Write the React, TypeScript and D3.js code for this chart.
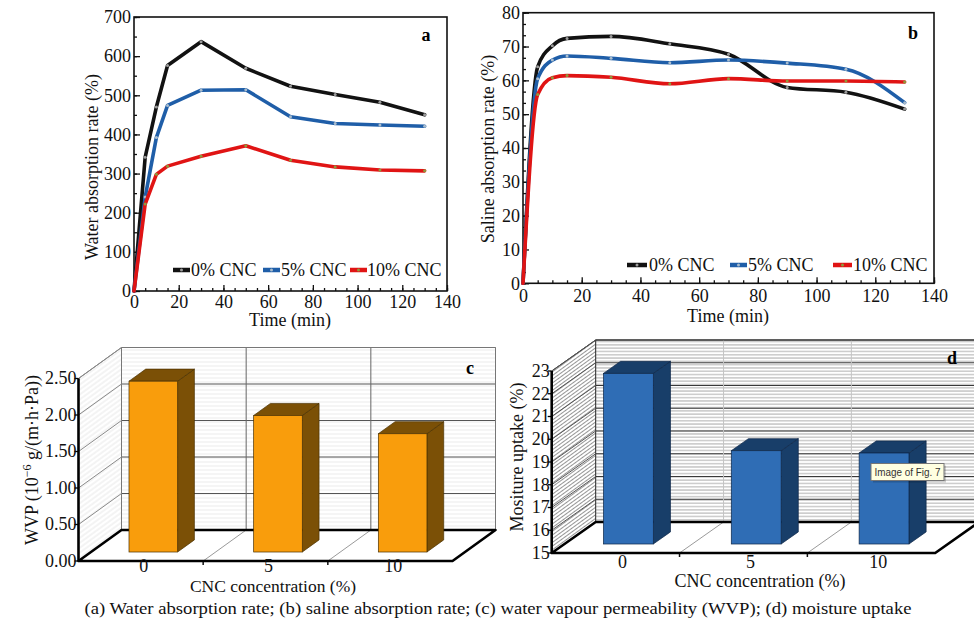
import React, { useEffect, useRef } from 'react'
import * as d3 from 'd3'

// sampling times (min) shared by panels a and b
const timePoints = [0, 5, 10, 15, 30, 50, 70, 90, 110, 130]
const seriesNames = ['0% CNC', '5% CNC', '10% CNC']

// a: water absorption rate (%)
const waterRate0 = [0, 342, 470, 576, 637, 569, 523, 502, 482, 450]
const waterRate5 = [0, 240, 392, 474, 513, 514, 445, 428, 424, 421]
const waterRate10 = [0, 222, 298, 319, 344, 371, 334, 317, 309, 307]

// b: saline absorption rate (%)
const salineRate0 = [0, 64, 70.2, 72.4, 73, 70.8, 67.7, 57.9, 56.5, 51.5]
const salineRate5 = [0, 60.5, 66, 67.2, 66.5, 65.2, 66, 65.1, 63.3, 53.4]
const salineRate10 = [0, 55.8, 60.8, 61.4, 60.9, 59, 60.5, 59.8, 59.8, 59.5]

const timeTicks = [0, 20, 40, 60, 80, 100, 120, 140]
const waterTicks = [0, 100, 200, 300, 400, 500, 600, 700]
const salineTicks = [0, 10, 20, 30, 40, 50, 60, 70, 80]

// c, d: bar charts by CNC concentration
const cncLevels = ['0', '5', '10']
const wvpValues = [2.34, 1.87, 1.62]
const wvpTicks = [0, 0.5, 1, 1.5, 2, 2.5]
const moistureValues = [22.5, 19.1, 19.0]
const moistureTicks = [15, 16, 17, 18, 19, 20, 21, 22, 23]

const SERIF = '"Liberation Serif", "Times New Roman", serif'
const lineColors = ['#121212', '#1f5ea8', '#e01414']
const markerColors = ['#9c9c9c', '#a9bccd', '#8e9a3c']

const styleAxis = (ax: any) => {
  ax.select('.domain').remove()
  ax.selectAll('line').attr('stroke', '#111').attr('stroke-width', 1.3)
  ax.selectAll('text').attr('font-family', SERIF).attr('font-size', 18).attr('fill', '#111')
}

const drawLinePanel = (svg: any, cfg: any) => {
  const x = d3.scaleLinear().domain([0, 140]).range([cfg.left, cfg.right])
  const y = d3.scaleLinear().domain([0, cfg.yMax]).range([cfg.bottom, cfg.top])
  const g = svg.append('g')

  // minor + major ticks, all pointing inward
  g.append('g').attr('transform', `translate(0,${cfg.bottom})`)
    .call(d3.axisBottom(x).tickValues(d3.range(0, 141, 5)).tickFormat(() => '').tickSize(-3)).call(styleAxis)
  g.append('g').attr('transform', `translate(0,${cfg.bottom})`)
    .call(d3.axisBottom(x).tickValues(timeTicks).tickSize(-6).tickPadding(cfg.xPad)).call(styleAxis)
  g.append('g').attr('transform', `translate(${cfg.left},0)`)
    .call(d3.axisLeft(y).tickValues(cfg.yMinor).tickFormat(() => '').tickSize(-3)).call(styleAxis)
  g.append('g').attr('transform', `translate(${cfg.left},0)`)
    .call(d3.axisLeft(y).tickValues(cfg.yTicks).tickSize(-6).tickPadding(3)).call(styleAxis)

  g.append('rect')
    .attr('x', cfg.left).attr('y', cfg.top)
    .attr('width', cfg.right - cfg.left).attr('height', cfg.bottom - cfg.top)
    .attr('fill', 'none').attr('stroke', '#111').attr('stroke-width', 1.6)

  cfg.series.forEach((vals: number[], i: number) => {
    const line = d3.line<number>()
      .x((d, j) => x(timePoints[j]))
      .y(d => y(d))
      .curve(cfg.curve)
    g.append('path').datum(vals).attr('d', line)
      .attr('fill', 'none').attr('stroke', lineColors[i]).attr('stroke-width', 3.6)
      .attr('stroke-linejoin', 'round').attr('stroke-linecap', 'round')
    g.selectAll(null).data(vals.slice(1)).enter().append('circle')
      .attr('cx', (d: number, j: number) => x(timePoints[j + 1]))
      .attr('cy', (d: number) => y(d))
      .attr('r', 1.5).attr('fill', markerColors[i])
  })

  // legend
  seriesNames.forEach((name, i) => {
    const [s0, s1] = cfg.legendSwatch[i]
    g.append('line').attr('x1', s0).attr('x2', s1).attr('y1', cfg.legendY).attr('y2', cfg.legendY)
      .attr('stroke', lineColors[i]).attr('stroke-width', 4.5)
    g.append('circle').attr('cx', (s0 + s1) / 2).attr('cy', cfg.legendY).attr('r', 1.5).attr('fill', markerColors[i])
    g.append('text').attr('x', cfg.legendText[i]).attr('y', cfg.legendY).attr('dy', '0.33em')
      .attr('font-family', SERIF).attr('font-size', 18).attr('fill', '#111').text(name)
  })

  g.append('text').attr('x', cfg.letter[0]).attr('y', cfg.letter[1]).attr('text-anchor', 'middle')
    .attr('font-family', SERIF).attr('font-size', 18).attr('font-weight', 'bold').text(cfg.letterText)
  g.append('text').attr('x', cfg.xTitle[0]).attr('y', cfg.xTitle[1]).attr('text-anchor', 'middle')
    .attr('font-family', SERIF).attr('font-size', 18).attr('fill', '#111').text('Time (min)')
  g.append('text').attr('transform', `translate(${cfg.yTitle[0]},${cfg.yTitle[1]}) rotate(-90)`)
    .attr('dy', '0.35em').attr('text-anchor', 'middle')
    .attr('font-family', SERIF).attr('font-size', 18).attr('fill', '#111').text(cfg.yTitleText)
}

const drawBarPanel = (svg: any, cfg: any) => {
  const { x0, y0, width, ddx, ddy, height } = cfg
  const band = d3.scaleBand().domain(cncLevels).range([0, width]).paddingInner(0.61).paddingOuter(0.305)
  const slot = d3.scaleBand().domain(cncLevels).range([0, width])
  const v = d3.scaleLinear().domain(cfg.domain).range([0, height])
  const g = svg.append('g')
  const bx = x0 + ddx
  const by = y0 + ddy
  const pts = (p: number[][]) => p.map(q => q.join(',')).join(' ')

  // back wall
  g.append('rect').attr('x', bx).attr('y', by - height).attr('width', width).attr('height', height).attr('fill', '#fff')
  g.append('rect').attr('x', bx).attr('y', by - height).attr('width', width).attr('height', height)
    .attr('fill', `url(#${cfg.backPattern})`)
  cfg.ticks.forEach((t: number) => {
    g.append('line').attr('x1', bx).attr('x2', bx + width).attr('y1', by - v(t)).attr('y2', by - v(t))
      .attr('stroke', cfg.gridColor).attr('stroke-width', 1.1)
  })
  cncLevels.slice(1).forEach(c => {
    g.append('line').attr('x1', bx + slot(c)!).attr('x2', bx + slot(c)!).attr('y1', by).attr('y2', by - height)
      .attr('stroke', cfg.vGridColor).attr('stroke-width', 1)
  })
  g.append('polyline').attr('points', pts([[bx, by - height], [bx + width, by - height], [bx + width, by]]))
    .attr('fill', 'none').attr('stroke', cfg.wallEdge).attr('stroke-width', 1)

  // side wall
  const side = [[x0, y0], [x0, y0 - height], [bx, by - height], [bx, by]]
  g.append('polygon').attr('points', pts(side)).attr('fill', '#fff')
  g.append('polygon').attr('points', pts(side)).attr('fill', `url(#${cfg.sidePattern})`)
    .attr('stroke', cfg.wallEdge).attr('stroke-width', 1)
  cfg.ticks.forEach((t: number) => {
    g.append('line').attr('x1', x0).attr('x2', bx).attr('y1', y0 - v(t)).attr('y2', by - v(t))
      .attr('stroke', cfg.sideGridColor).attr('stroke-width', 1)
  })

  // floor
  const floor = [[x0, y0], [x0 + width, y0], [bx + width, by], [bx, by]]
  g.append('polygon').attr('points', pts(floor)).attr('fill', '#fff')
  cncLevels.slice(1).forEach(c => {
    const sx = x0 + slot(c)!
    g.append('line').attr('x1', sx).attr('x2', sx + ddx).attr('y1', y0).attr('y2', by)
      .attr('stroke', '#9a9a9a').attr('stroke-width', 1)
    g.append('line').attr('x1', sx).attr('x2', sx).attr('y1', y0).attr('y2', y0 + 4)
      .attr('stroke', '#111').attr('stroke-width', 1.5)
  })
  g.append('polygon').attr('points', pts(floor)).attr('fill', 'none')
    .attr('stroke', '#000').attr('stroke-width', 2.6).attr('stroke-linejoin', 'round')

  // value axis on the front-left edge
  g.append('line').attr('x1', x0).attr('x2', x0).attr('y1', y0).attr('y2', y0 - height)
    .attr('stroke', '#000').attr('stroke-width', 2.6)
  cfg.ticks.forEach((t: number) => {
    g.append('line').attr('x1', x0 - 4).attr('x2', x0).attr('y1', y0 - v(t)).attr('y2', y0 - v(t))
      .attr('stroke', '#000').attr('stroke-width', 1.3)
    g.append('text').attr('x', x0 - 2).attr('y', y0 - v(t)).attr('dy', '0.33em').attr('text-anchor', 'end')
      .attr('font-family', SERIF).attr('font-size', 18).attr('fill', '#111').text(cfg.tickFormat(t))
  })

  // 3D bars
  const f0 = 0.29
  const f1 = 0.68
  cncLevels.forEach((c, i) => {
    const w = band.bandwidth()
    const h = v(cfg.values[i])
    const fx = x0 + band(c)! + f0 * ddx
    const fy = y0 + f0 * ddy
    const dx = (f1 - f0) * ddx
    const dy = (f1 - f0) * ddy
    g.append('polygon').attr('points', pts([[fx + w, fy], [fx + w, fy - h], [fx + w + dx, fy - h + dy], [fx + w + dx, fy + dy]]))
      .attr('fill', cfg.darkColor).attr('stroke', cfg.edgeColor).attr('stroke-width', 0.7)
    g.append('polygon').attr('points', pts([[fx, fy - h], [fx + w, fy - h], [fx + w + dx, fy - h + dy], [fx + dx, fy - h + dy]]))
      .attr('fill', cfg.darkColor).attr('stroke', cfg.edgeColor).attr('stroke-width', 0.7)
    g.append('rect').attr('x', fx).attr('y', fy - h).attr('width', w).attr('height', h)
      .attr('fill', cfg.color).attr('stroke', cfg.edgeColor).attr('stroke-width', 0.7)
    g.append('text').attr('x', x0 + slot(c)! + slot.bandwidth() / 2 + cfg.labelShift).attr('y', cfg.catY)
      .attr('text-anchor', 'middle').attr('font-family', SERIF).attr('font-size', 18).attr('fill', '#111').text(c)
  })

  g.append('text').attr('x', cfg.letter[0]).attr('y', cfg.letter[1]).attr('text-anchor', 'middle')
    .attr('font-family', SERIF).attr('font-size', 18).attr('font-weight', 'bold').text(cfg.letterText)
  g.append('text').attr('x', cfg.xTitle[0]).attr('y', cfg.xTitle[1]).attr('text-anchor', 'middle')
    .attr('font-family', SERIF).attr('font-size', cfg.xTitleSize).attr('fill', '#111').text('CNC concentration (%)')
  const yt = g.append('text').attr('transform', `translate(${cfg.yTitle[0]},${cfg.yTitle[1]}) rotate(-90)`)
    .attr('dy', '0.35em').attr('text-anchor', 'middle')
    .attr('font-family', SERIF).attr('font-size', 18).attr('fill', '#111')
  cfg.yTitleParts.forEach((p: any) => {
    const ts = yt.append('tspan').text(p.text)
    if (p.sup) ts.attr('font-size', 12).attr('dy', -7)
    if (p.after) ts.attr('dy', 7)
  })
  return g
}

export default function App() {
  const ref = useRef<SVGSVGElement>(null)
  useEffect(() => {
    const svg = d3.select(ref.current)
    svg.selectAll('*').remove()
    const defs = svg.append('defs')
    const hatch = (id: string, size: number, color: string, sw: number, angle: number) => {
      const p = defs.append('pattern').attr('id', id).attr('patternUnits', 'userSpaceOnUse')
        .attr('width', 20).attr('height', size).attr('patternTransform', `rotate(${angle})`)
      p.append('line').attr('x1', 0).attr('x2', 20).attr('y1', size / 2).attr('y2', size / 2)
        .attr('stroke', color).attr('stroke-width', sw)
    }
    hatch('backC', 4, '#e6e6e6', 0.8, 0)
    hatch('sideC', 4, '#e2e2e2', 0.8, -36)
    hatch('backD', 3.3, '#8f8f8f', 0.8, 0)
    hatch('sideD', 3, '#7a7a7a', 0.8, -36)

    drawLinePanel(svg, {
      left: 134, right: 447, top: 17, bottom: 291, yMax: 700,
      yTicks: waterTicks, yMinor: d3.range(0, 701, 50), xPad: 4,
      series: [waterRate0, waterRate5, waterRate10], curve: d3.curveLinear,
      legendY: 270, legendSwatch: [[173, 190], [263, 280], [350, 367]], legendText: [191, 281, 367],
      letter: [426, 41], letterText: 'a', xTitle: [290, 326], yTitle: [92, 167],
      yTitleText: 'Water absorption rate (%)',
    })
    drawLinePanel(svg, {
      left: 523, right: 934, top: 12.7, bottom: 283.3, yMax: 80,
      yTicks: salineTicks, yMinor: d3.range(0, 81, 10 / 3), xPad: 6,
      series: [salineRate0, salineRate5, salineRate10], curve: d3.curveMonotoneX,
      legendY: 265, legendSwatch: [[627, 647], [730, 747], [833, 852]], legendText: [649, 748, 853],
      letter: [913, 39], letterText: 'b', xTitle: [728, 322], yTitle: [488, 149],
      yTitleText: 'Saline absorption rate (%)',
    })
    drawBarPanel(svg, {
      x0: 78.5, y0: 561, width: 374, ddx: 43, ddy: -31, height: 182.5, domain: [0, 2.5],
      ticks: wvpTicks, tickFormat: d3.format('.2f'), values: wvpValues,
      color: '#f99d0c', darkColor: '#7b5006', edgeColor: '#4a3000',
      backPattern: 'backC', sidePattern: 'sideC', gridColor: '#555', vGridColor: '#666',
      sideGridColor: '#8a8a8a', wallEdge: '#777',
      catY: 572, labelShift: 3, letter: [470, 374], letterText: 'c',
      xTitle: [273, 592], xTitleSize: 17.5, yTitle: [32, 460],
      yTitleParts: [{ text: 'WVP (10' }, { text: '\u22126', sup: true }, { text: ' g/(m\u00b7h\u00b7Pa))', after: true }],
    })
    drawBarPanel(svg, {
      x0: 551.7, y0: 553, width: 383.5, ddx: 44, ddy: -31, height: 182, domain: [15, 23],
      ticks: moistureTicks, tickFormat: d3.format('d'), values: moistureValues,
      color: '#2f6db5', darkColor: '#183e69', edgeColor: '#0e2748',
      backPattern: 'backD', sidePattern: 'sideD', gridColor: '#3a3a3a', vGridColor: '#c4c4c4',
      sideGridColor: '#555', wallEdge: '#222',
      catY: 568, labelShift: 7, letter: [952, 364], letterText: 'd',
      xTitle: [760, 587], xTitleSize: 18, yTitle: [517, 457],
      yTitleParts: [{ text: 'Mositure uptake (%)' }],
    })

    // browser tooltip captured in the screenshot
    const tip = svg.append('g').attr('transform', 'translate(871,463.5)')
    tip.append('rect').attr('x', 2).attr('y', 2).attr('width', 73).attr('height', 17).attr('fill', 'rgba(0,0,0,0.18)')
    tip.append('rect').attr('width', 73).attr('height', 17).attr('fill', '#ffffe1').attr('stroke', '#767676')
    tip.append('text').attr('x', 3.5).attr('y', 12.5).attr('font-family', '"Liberation Sans", Arial, sans-serif')
      .attr('font-size', 10.5).attr('textLength', 66).attr('lengthAdjust', 'spacingAndGlyphs')
      .attr('fill', '#333').text('Image of Fig. 7')

    svg.append('text').attr('x', 498).attr('y', 614).attr('text-anchor', 'middle')
      .attr('font-family', SERIF).attr('font-size', 17.5).attr('fill', '#111')
      .attr('textLength', 827).attr('lengthAdjust', 'spacingAndGlyphs')
      .text('(a) Water absorption rate; (b) saline absorption rate; (c) water vapour permeability (WVP); (d) moisture uptake')
  }, [])
  return (
    <svg ref={ref} width={974} height={625}
      style={{ position: 'absolute', left: 0, top: 0, background: '#fff', display: 'block' }} />
  )
}
